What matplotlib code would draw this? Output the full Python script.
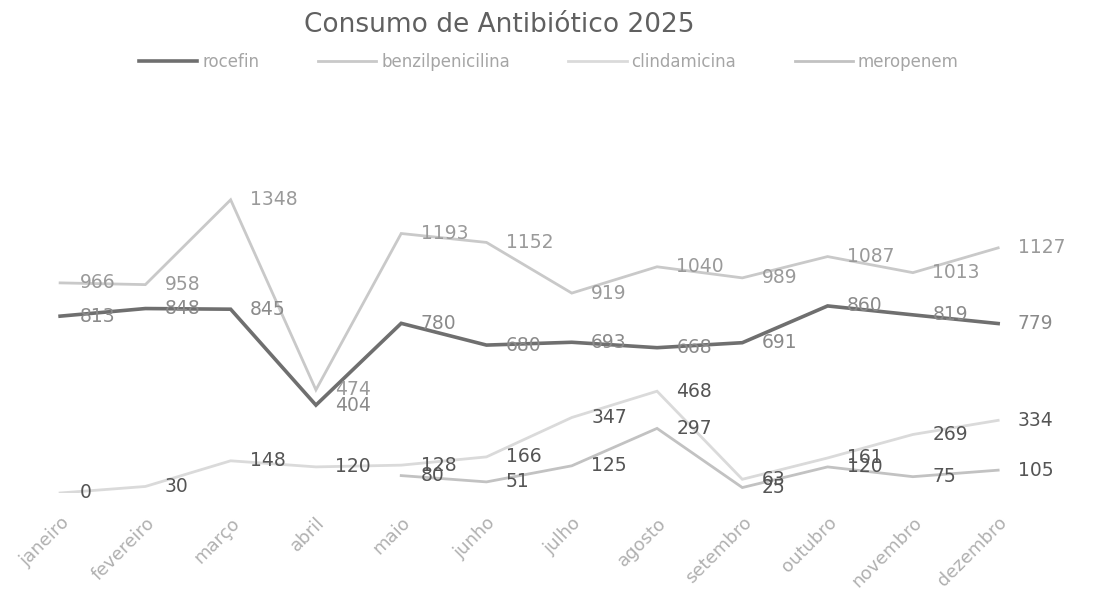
import matplotlib
matplotlib.use("Agg")
import matplotlib.pyplot as plt
import numpy as np

months = ["janeiro", "fevereiro", "março", "abril", "maio", "junho",
          "julho", "agosto", "setembro", "outubro", "novembro", "dezembro"]
rocefin = [813, 848, 845, 404, 780, 680, 693, 668, 691, 860, 819, 779]
benzilpenicilina = [966, 958, 1348, 474, 1193, 1152, 919, 1040, 989, 1087, 1013, 1127]
clindamicina = [0, 30, 148, 120, 128, 166, 347, 468, 63, 161, 269, 334]
meropenem = [None, None, None, None, 80, 51, 125, 297, 25, 120, 75, 105]

series = [
    ("rocefin", rocefin, "#6f6f6f", 2.6, "#8a8a8a"),
    ("benzilpenicilina", benzilpenicilina, "#c9c9c9", 2.0, "#9a9a9a"),
    ("clindamicina", clindamicina, "#dadada", 2.0, "#555555"),
    ("meropenem", meropenem, "#c2c2c2", 2.0, "#555555"),
]

plt.rcParams['font.family'] = ['DejaVu Sans']
fig = plt.figure(figsize=(10.98, 5.89), dpi=100)
ax = fig.add_axes([0.0159, 0.163, 0.932, 0.517])

x = np.arange(len(months))
for name, vals, color, lw, lcol in series:
    y = np.array([np.nan if v is None else v for v in vals], dtype=float)
    ax.plot(x, y, color=color, lw=lw, label=name, solid_joinstyle='miter', zorder=2)
    for xi, v in zip(x, vals):
        if v is None:
            continue
        ax.annotate(str(v), (xi, v), xytext=(14, 0), textcoords="offset points",
                    ha="left", va="center", fontsize=13.5, color=lcol, zorder=3)

ax.set_xlim(-0.5, 11.5)
ax.set_ylim(0, 1400)
ax.set_xticks(x)
ax.set_xticklabels(months, rotation=45, ha="right", rotation_mode="anchor",
                   fontsize=13, color="#b0b0b0")
ax.tick_params(axis="x", length=0, pad=15)
ax.set_yticks([])
for s in ax.spines.values():
    s.set_visible(False)

fig.text(0.455, 0.957, "Consumo de Antibiótico 2025", ha="center", va="center",
         fontsize=19, color="#606060")

handles, labels = ax.get_legend_handles_labels()
leg = fig.legend(handles, labels, loc="center", bbox_to_anchor=(0.5, 0.895), ncol=4,
                 frameon=False, fontsize=12, handlelength=3.5, columnspacing=3.5,
                 handletextpad=0.3)
for t in leg.get_texts():
    t.set_color("#a5a5a5")

fig.savefig("out.png", dpi=100)
